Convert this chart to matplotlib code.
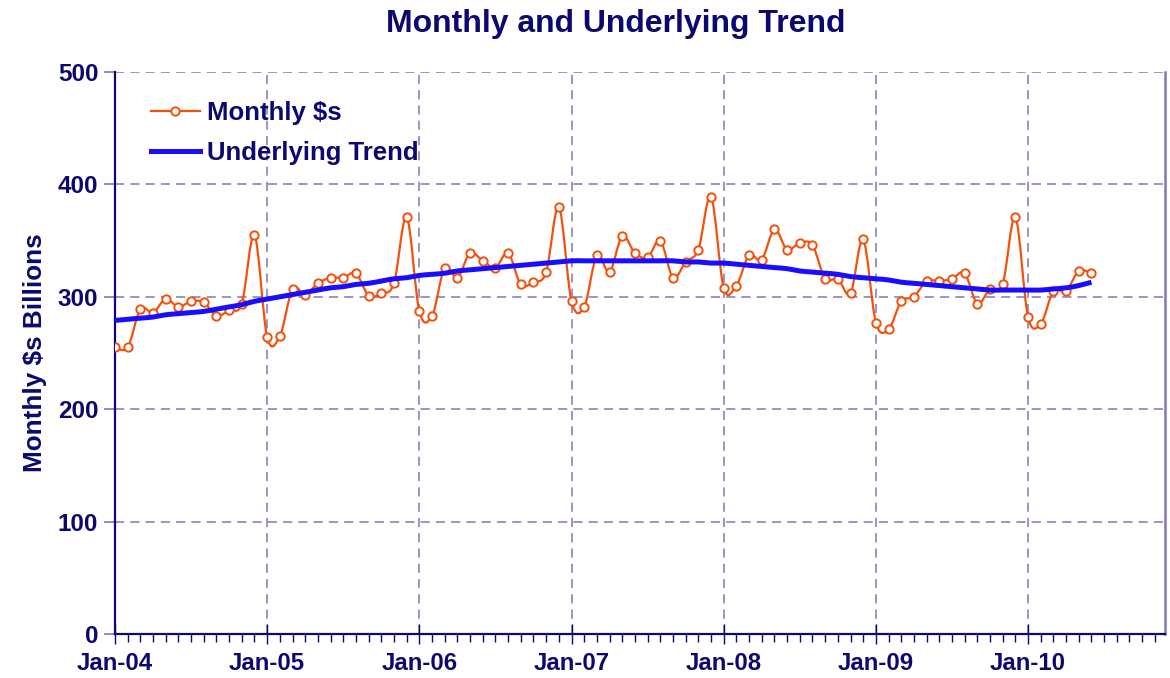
import numpy as np
import matplotlib
matplotlib.use("Agg")
import matplotlib.pyplot as plt
from matplotlib.path import Path
from matplotlib.patches import PathPatch
from matplotlib.lines import Line2D

# monthly $s billions, Jan-04 .. Jun-10
monthly = [255, 255, 289, 286, 298, 291, 296, 295, 283, 288, 294, 355,
           264, 265, 307, 302, 312, 317, 317, 321, 301, 303, 312, 371,
           287, 283, 326, 317, 339, 332, 326, 339, 311, 313, 322, 380,
           296, 291, 337, 322, 354, 339, 335, 350, 317, 331, 342, 389,
           308, 310, 337, 333, 360, 342, 348, 346, 316, 316, 303, 351,
           277, 271, 296, 300, 314, 314, 316, 321, 294, 307, 311, 371,
           282, 276, 305, 305, 323, 321]
trend = [279, 280, 281, 282, 284, 285, 286, 287, 289, 291, 293, 296,
         298, 300, 302, 304, 306, 308, 309, 311, 312, 314, 316, 317,
         319, 320, 321, 323, 324, 325, 326, 327, 328, 329, 330, 331,
         332, 332, 332, 332, 332, 332, 332, 332, 332, 331, 331, 330,
         330, 329, 328, 327, 326, 325, 323, 322, 321, 320, 318, 317,
         316, 315, 313, 312, 311, 310, 309, 308, 307, 306, 306, 306,
         306, 306, 307, 308, 310, 313]
year_labels = ["Jan-04", "Jan-05", "Jan-06", "Jan-07", "Jan-08", "Jan-09", "Jan-10"]

navy = "#0c0870"
orange = "#f5500a"
blue = "#1a0dff"
gridc = "#7d78b8"

def smooth_path(x, y):
    # Excel style smoothed line: Catmull-Rom segments as cubic Beziers
    pts = np.column_stack([x, y]).astype(float)
    verts = [pts[0]]
    codes = [Path.MOVETO]
    n = len(pts)
    for i in range(n - 1):
        p0 = pts[i - 1] if i > 0 else pts[i]
        p1 = pts[i]
        p2 = pts[i + 1]
        p3 = pts[i + 2] if i + 2 < n else pts[i + 1]
        c1 = p1 + (p2 - p0) / 6.0
        c2 = p2 - (p3 - p1) / 6.0
        verts += [c1, c2, p2]
        codes += [Path.CURVE4] * 3
    return Path(verts, codes)

x = np.arange(len(monthly))

fig = plt.figure(figsize=(11.7, 6.78), dpi=100)
ax = fig.add_axes([115 / 1170, 44 / 678, 1050 / 1170, 562 / 678])

ax.add_patch(PathPatch(smooth_path(x, monthly), facecolor="none",
                       edgecolor=orange, lw=1.6, zorder=3))
ax.plot(x, monthly, ls="none", marker="o", ms=6, mfc="white",
        mec=orange, mew=1.4, zorder=4)
ax.add_patch(PathPatch(smooth_path(x, trend), facecolor="none",
                       edgecolor=blue, lw=3.6, zorder=5))

ax.set_xlim(0, 82.8)
ax.set_ylim(0, 500)

ax.set_yticks([0, 100, 200, 300, 400, 500])
ax.set_xticks(np.arange(0, 73, 12))
ax.set_xticklabels(year_labels)
ax.set_xticks(np.arange(0, 83, 1), minor=True)

ax.grid(True, which="major", color=gridc, ls=(0, (6, 4)), lw=1.1)
ax.set_axisbelow(True)

for s in ["left", "bottom"]:
    ax.spines[s].set_color(navy)
    ax.spines[s].set_linewidth(1.6)
ax.spines["right"].set_color(gridc)
ax.spines["right"].set_linewidth(1.8)
ax.spines["top"].set_visible(False)

ax.tick_params(axis="y", which="major", direction="out", length=8,
               color=gridc, width=1.2, labelsize=17.5, labelcolor=navy, pad=4)
ax.tick_params(axis="x", which="major", direction="inout", length=14,
               color=navy, width=1.0, labelsize=17.3, labelcolor=navy, pad=6)
ax.tick_params(axis="x", which="minor", direction="out", length=6,
               color=navy, width=1.0)
for lab in ax.get_xticklabels() + ax.get_yticklabels():
    lab.set_fontweight("bold")
    lab.set_family("Liberation Sans")

ax.set_ylabel("Monthly $s Billions", fontsize=18.8, fontweight="bold",
              color=navy, family="Liberation Sans", labelpad=7.5)

fig.text(616 / 1170, 1 - 24 / 678, "Monthly and Underlying Trend",
         ha="center", va="center", fontsize=23, fontweight="bold",
         color=navy, family="Liberation Sans")

handles = [Line2D([], [], color=orange, lw=1.6, marker="o", ms=6,
                  mfc="white", mec=orange, mew=1.4),
           Line2D([], [], color=blue, lw=3.6)]
leg = ax.legend(handles, ["Monthly $s", "Underlying Trend"], loc="upper left",
                bbox_to_anchor=(0.012, 0.99), frameon=False, handlelength=1.9,
                handletextpad=0.3, labelspacing=0.62,
                prop={"family": "Liberation Sans", "weight": "bold", "size": 18.5})
for t in leg.get_texts():
    t.set_color(navy)

fig.savefig("out.png", dpi=100)
